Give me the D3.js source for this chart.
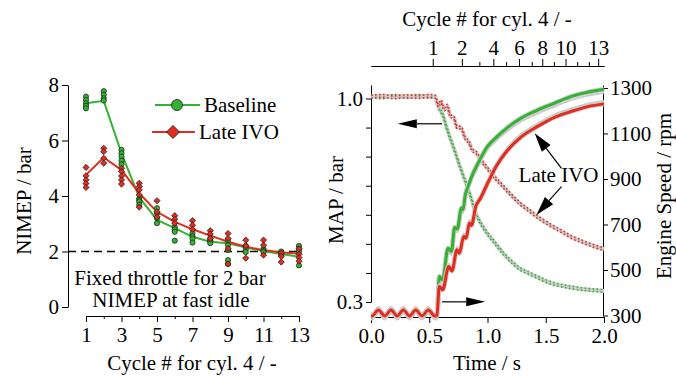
<!DOCTYPE html>
<html>
<head>
<meta charset="utf-8">
<script src="https://cdn.jsdelivr.net/npm/d3@7"></script>
<style>
  body { margin: 0; background: #fff; }
</style>
</head>
<body>
<svg id="chart" width="676" height="377" font-family="Liberation Serif" font-size="21"></svg>
<script>
// ---- data: left panel (NIMEP per cycle) ----
var cycles = [1,2,3,4,5,6,7,8,9,10,11,12,13];
var nimTicks = [0,2,4,6,8];
var baseMean = [7.34,7.43,5.54,3.95,3.14,2.84,2.53,2.35,2.3,2.14,2.02,1.91,1.81];
var lateMean = [4.76,5.39,4.94,4.1,3.43,3.07,2.8,2.57,2.35,2.17,2.05,1.96,1.93];
var baseRuns = [
  [7.58,7.46,7.34,7.25,7.16],
  [7.78,7.65,7.52,7.44],
  [5.66,5.54,5.42,5.27,5.14],
  [3.92,3.85,3.8,3.68],
  [3.56,3.38,3.2,3.02],
  [2.89,2.8,2.71,2.39],
  [2.65,2.55,2.47,2.32],
  [2.47,2.4,2.36,2.3],
  [2.41,2.23,2.05,1.69,1.55],
  [2.2,2.08,1.98],
  [2.1,2.02,1.98],
  [2.0,1.93,1.87],
  [2.2,2.1,2.0,1.5]
];
var lateRuns = [
  [5.03,4.73,4.58,4.45,4.31],
  [5.72,5.6,5.36,5.18],
  [5.0,4.88,4.72,4.58,4.43],
  [4.46,4.34,4.22,4.04,3.6],
  [3.83,3.43,3.25],
  [3.29,3.16,3.02],
  [3.11,2.95,2.8],
  [2.75,2.63,2.47],
  [2.65,2.47,2.11,1.55],
  [2.41,2.2,1.76],
  [2.41,2.23,1.87],
  [1.95,1.82,1.62],
  [2.1,1.9,1.78,1.65]
];

// ---- data: right panel (time traces) ----
var timeTicks = [0,0.5,1,1.5,2];
var mapTicks = [0.3,0.4,0.5,0.6,0.7,0.8,0.9,1.0];
var rpmTicks = [300,500,700,900,1100,1300];
var topCycleTime = [0.53,0.78,0.93,1.05,1.16,1.27,1.38,1.47,1.57,1.67,1.77,1.87,1.95];
var topLabels = [1,2,4,6,8,10,13];

// idle speed before tip-in (same for both)
var idleT   = [0,0.01,0.063,0.118,0.172,0.225,0.278,0.331,0.384,0.438,0.492,0.548];
var idleRpm = [298,298,324,298,324,298,324,298,324,298,324,298];

var baseSpeedT = [0.568,0.586,0.615,0.661,0.69,0.718,0.741,0.776,0.79,0.81,0.83,0.86,0.92,1.0,1.08,1.15,1.29,1.44,1.58,1.72,1.85,2.0];
var baseSpeed  = [300,471,457,596,581,687,680,772,765,831,862,905,970,1043,1085,1117,1168,1205,1234,1263,1280,1294];
var lateSpeedT = [0.566,0.586,0.615,0.667,0.695,0.738,0.759,0.796,0.816,0.845,0.862,0.9,0.94,1.0,1.08,1.17,1.29,1.43,1.58,1.72,1.86,2.0];
var lateSpeed  = [300,427,413,515,496,589,574,647,640,706,696,780,815,880,960,1025,1085,1131,1172,1197,1218,1230];

var baseMapT = [0,0.1,0.2,0.3,0.4,0.5,0.55,0.575,0.6,0.62,0.645,0.67,0.71,0.76,0.8,0.85,0.9,0.95,1.0,1.07,1.14,1.21,1.28,1.36,1.43,1.5,1.57,1.65,1.72,1.8,1.9,2.0];
var baseMap  = [1.008,1.004,1.009,1.005,1.009,1.006,1.006,0.975,0.955,0.94,0.905,0.875,0.83,0.77,0.725,0.67,0.605,0.565,0.535,0.5,0.465,0.437,0.414,0.398,0.385,0.372,0.362,0.355,0.35,0.345,0.341,0.338];
var lateMapT = [0,0.1,0.2,0.3,0.4,0.5,0.55,0.58,0.6,0.63,0.655,0.68,0.71,0.74,0.77,0.81,0.84,0.87,0.9,0.94,1.0,1.07,1.14,1.21,1.28,1.36,1.43,1.5,1.57,1.65,1.72,1.8,1.86,1.93,2.0];
var lateMap  = [1.006,1.009,1.004,1.008,1.005,1.009,1.006,0.975,0.99,0.962,0.975,0.94,0.935,0.9,0.9,0.862,0.85,0.822,0.815,0.79,0.759,0.725,0.695,0.665,0.638,0.614,0.592,0.574,0.557,0.54,0.523,0.51,0.5,0.49,0.482];

var svg = d3.select("#chart");
var green = "#34b233", red = "#e32b1e", grey = "#cbcbcb";

// d3 axes put font-family="sans-serif" on their group; drop it so the serif font is inherited
function styleAxis(g) {
  g.attr("font-family", null).attr("font-size", null);
  g.select(".domain").attr("stroke", "#000");
  g.selectAll(".tick line").attr("stroke", "#000");
  g.selectAll(".tick text").attr("fill", "#000");
}

// ================= left panel =================
var xCyc = d3.scaleLinear().domain([1,13]).range([86,299]);
var yNim = d3.scaleLinear().domain([0,8]).range([307,85]);

svg.append("g")
    .attr("transform", "translate(68,0)")
    .call(d3.axisLeft(yNim).tickValues(nimTicks).tickSize(6).tickSizeOuter(0).tickPadding(3))
    .call(styleAxis);

svg.append("g")
    .attr("transform", "translate(0,316)")
    .call(d3.axisBottom(xCyc).tickValues(cycles.filter(function(c){ return c % 2 == 1; }))
      .tickSize(6).tickSizeOuter(0).tickPadding(5))
    .call(styleAxis);
svg.append("g")
    .attr("transform", "translate(0,316)")
    .call(d3.axisBottom(xCyc).tickValues(cycles.filter(function(c){ return c % 2 == 0; }))
      .tickSize(3).tickSizeOuter(0).tickFormat(""))
    .call(styleAxis);

// 2 bar reference line
svg.append("line")
    .attr("x1", 68).attr("x2", xCyc(13))
    .attr("y1", yNim(2)).attr("y2", yNim(2))
    .attr("stroke", "#000").attr("stroke-width", 1.3)
    .attr("stroke-dasharray", "8,5");

// mean lines
var nimLine = d3.line()
    .x(function(d){ return xCyc(d[0]); })
    .y(function(d){ return yNim(d[1]); });

svg.append("path").datum(d3.zip(cycles, baseMean))
    .attr("d", nimLine).attr("fill", "none").attr("stroke", green).attr("stroke-width", 2);
svg.append("path").datum(d3.zip(cycles, lateMean))
    .attr("d", nimLine).attr("fill", "none").attr("stroke", red).attr("stroke-width", 2);

// individual runs
var basePts = [], latePts = [];
baseRuns.forEach(function(vals, i){ vals.forEach(function(v){ basePts.push([cycles[i], v]); }); });
lateRuns.forEach(function(vals, i){ vals.forEach(function(v){ latePts.push([cycles[i], v]); }); });

svg.append("g").selectAll("circle")
    .data(basePts).enter().append("circle")
      .attr("cx", function(d){ return xCyc(d[0]); })
      .attr("cy", function(d){ return yNim(d[1]); })
      .attr("r", 2.6)
      .attr("fill", green).attr("stroke", "#1a1a1a").attr("stroke-width", 0.7);

var smallDiamond = d3.symbol().type(d3.symbolSquare).size(19);
svg.append("g").selectAll("path")
    .data(latePts).enter().append("path")
      .attr("d", smallDiamond)
      .attr("transform", function(d){ return "translate(" + xCyc(d[0]) + "," + yNim(d[1]) + ") rotate(45)"; })
      .attr("fill", red).attr("stroke", "#1a1a1a").attr("stroke-width", 0.7);

// legend
var leg = svg.append("g");
leg.append("line").attr("x1", 155).attr("x2", 200).attr("y1", 105).attr("y2", 105)
    .attr("stroke", green).attr("stroke-width", 2.2);
leg.append("circle").attr("cx", 177).attr("cy", 105).attr("r", 5.5)
    .attr("fill", green).attr("stroke", "#1a1a1a").attr("stroke-width", 0.8);
leg.append("text").attr("x", 204).attr("y", 112).text("Baseline");
leg.append("line").attr("x1", 152).attr("x2", 195).attr("y1", 132).attr("y2", 132)
    .attr("stroke", red).attr("stroke-width", 2.2);
leg.append("path").attr("d", d3.symbol().type(d3.symbolSquare).size(85))
    .attr("transform", "translate(173,132) rotate(45)")
    .attr("fill", red).attr("stroke", "#1a1a1a").attr("stroke-width", 0.8);
leg.append("text").attr("x", 199).attr("y", 139).text("Late IVO");

// annotation + titles
var notes = svg.append("g").attr("text-anchor", "middle");
notes.append("text").attr("x", 170).attr("y", 285).text("Fixed throttle for 2 bar");
notes.append("text").attr("x", 171).attr("y", 307).text("NIMEP at fast idle");
notes.append("text").attr("x", 192).attr("y", 370).text("Cycle # for cyl. 4 / -");
notes.append("text").attr("transform", "translate(31,201) rotate(-90)").text("NIMEP / bar");

// ================= right panel =================
var xTime = d3.scaleLinear().domain([0,2]).range([371,604]);
var yMap = d3.scaleLinear().domain([0.3,1.0464]).range([302,85]);
var yRpm = d3.scaleLinear().domain([300,1313]).range([315.5,85]);

svg.append("g")
    .attr("transform", "translate(371,0)")
    .call(d3.axisLeft(yMap).tickValues(mapTicks).tickSize(5).tickSizeOuter(0).tickPadding(3)
      .tickFormat(function(d){ return (d == 0.3 || d == 1.0) ? d3.format(".1f")(d) : ""; }))
    .call(styleAxis);

svg.append("g")
    .attr("transform", "translate(603,0)")
    .call(d3.axisRight(yRpm).tickValues(rpmTicks).tickSize(5).tickSizeOuter(0).tickPadding(2)
      .tickFormat(d3.format("d")))
    .call(styleAxis);

svg.append("g")
    .attr("transform", "translate(0,317)")
    .call(d3.axisBottom(xTime).tickValues(timeTicks).tickSize(6).tickSizeOuter(0).tickPadding(5)
      .tickFormat(d3.format(".1f")))
    .call(styleAxis);

// top cycle axis
var topMajor = topLabels.map(function(c){ return topCycleTime[c - 1]; });
var topMinor = cycles.filter(function(c){ return topLabels.indexOf(c) < 0; })
    .map(function(c){ return topCycleTime[c - 1]; });
svg.append("g")
    .attr("transform", "translate(0,66)")
    .call(d3.axisTop(xTime).tickValues(topMajor).tickSize(7).tickSizeOuter(0).tickPadding(4)
      .tickFormat(function(d, i){ return topLabels[i]; }))
    .call(styleAxis);
svg.append("g")
    .attr("transform", "translate(0,66)")
    .call(d3.axisTop(xTime).tickValues(topMinor).tickSize(4).tickSizeOuter(0).tickFormat(""))
    .call(styleAxis);

// MAP traces (dotted, with grey companion runs)
var mapLine = d3.line()
    .x(function(d){ return xTime(d[0]); })
    .y(function(d){ return yMap(d[1]); })
    .curve(d3.curveMonotoneX);

[[baseMapT, baseMap, green], [lateMapT, lateMap, red]].forEach(function(s){
  var pts = d3.zip(s[0], s[1]);
  svg.append("path").datum(pts).attr("d", mapLine)
      .attr("fill", "none").attr("stroke", grey).attr("stroke-width", 4);
  [-1.4, 1.4].forEach(function(off){
    svg.append("path").datum(pts).attr("d", mapLine)
        .attr("transform", "translate(0," + off + ")")
        .attr("fill", "none").attr("stroke", s[2]).attr("stroke-width", 1.6)
        .attr("stroke-dasharray", "1.6,2.4");
  });
});

// engine speed traces
var rpmLine = d3.line()
    .x(function(d){ return xTime(d[0]); })
    .y(function(d){ return yRpm(d[1]); })
    .curve(d3.curveMonotoneX);

[[baseSpeedT, baseSpeed, green, 3.5], [lateSpeedT, lateSpeed, red, -3]].forEach(function(s){
  var pts = d3.zip(idleT.concat(s[0]), idleRpm.concat(s[1]));
  svg.append("path").datum(pts).attr("d", rpmLine)
      .attr("transform", "translate(0," + s[3] + ")")
      .attr("fill", "none").attr("stroke", grey).attr("stroke-width", 2);
  svg.append("path").datum(pts).attr("d", rpmLine)
      .attr("fill", "none").attr("stroke", grey).attr("stroke-width", 5);
  svg.append("path").datum(pts).attr("d", rpmLine)
      .attr("fill", "none").attr("stroke", s[2]).attr("stroke-width", 3);
});

// arrows
function arrow(x1, y1, x2, y2, len, hw) {
  var a = Math.atan2(y2 - y1, x2 - x1);
  var bx = x2 - len * Math.cos(a), by = y2 - len * Math.sin(a);
  var px = -Math.sin(a) * hw, py = Math.cos(a) * hw;
  svg.append("line").attr("x1", x1).attr("y1", y1).attr("x2", bx).attr("y2", by)
      .attr("stroke", "#000").attr("stroke-width", 1.2);
  svg.append("path")
      .attr("d", "M" + x2 + "," + y2 + "L" + (bx + px) + "," + (by + py) + "L" + (bx - px) + "," + (by - py) + "Z")
      .attr("fill", "#000");
}
arrow(xTime(0.61), yMap(0.913), xTime(0.23), yMap(0.913), 19, 4.5);
arrow(xTime(0.61), yRpm(360), xTime(0.98), yRpm(360), 19, 4.5);
arrow(xTime(1.635), yRpm(947), xTime(1.405), yRpm(1101), 19, 5.5);
arrow(xTime(1.635), yRpm(866), xTime(1.42), yRpm(742), 19, 5.5);

var rt = svg.append("g").attr("text-anchor", "middle");
rt.append("text").attr("x", xTime(1.61)).attr("y", yRpm(887)).text("Late IVO");
rt.append("text").attr("x", 487).attr("y", 370).text("Time / s");
rt.append("text").attr("x", 487).attr("y", 26).text("Cycle # for cyl. 4 / -");
rt.append("text").attr("transform", "translate(343,200) rotate(-90)").text("MAP / bar");
rt.append("text").attr("transform", "translate(671,196) rotate(-90)").text("Engine Speed / rpm");

// serif font on every label
svg.selectAll("text")
    .attr("font-family", "Liberation Serif")
    .style("font-family", "'Liberation Serif'")
    .style("font-size", "21px");
</script>
</body>
</html>
